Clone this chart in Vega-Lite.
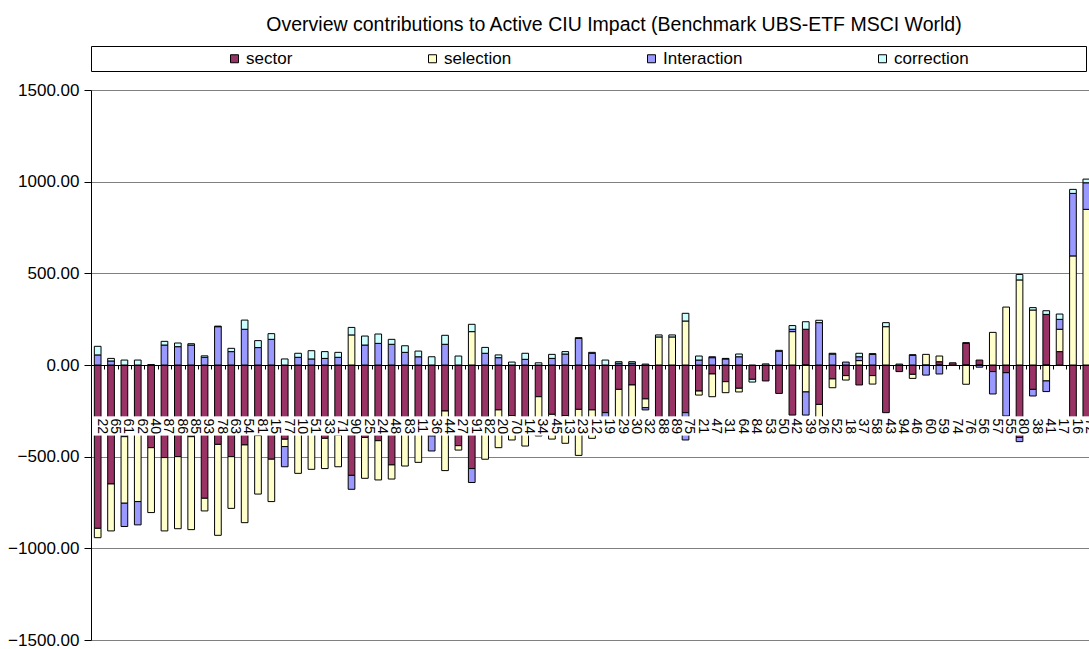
{
  "$schema": "https://vega.github.io/schema/vega-lite/v6.json",
  "autosize": {"type": "none"},
  "padding": {"left": 91, "top": 90, "right": 0, "bottom": 9},
  "width": 998,
  "height": 550,
  "title": {
    "text": "Overview contributions to Active CIU Impact (Benchmark UBS-ETF MSCI World)",
    "fontSize": 19.5,
    "fontWeight": "normal",
    "font": "Liberation Sans",
    "color": "black",
    "anchor": "middle",
    "frame": "group",
    "dx": 24,
    "offset": 10
  },
  "config": {"font": "Liberation Sans", "view": {"stroke": null}},
  "datasets": {
    "components": [
      {"component": "sector", "rank": 1},
      {"component": "selection", "rank": 2},
      {"component": "Interaction", "rank": 3},
      {"component": "correction", "rank": 4}
    ]
  },
  "data": {
    "values": [
      {"cat": "22", "sector": -891, "selection": -51, "Interaction": 55, "correction": 47},
      {"cat": "65", "sector": -649, "selection": -256, "Interaction": 22, "correction": 14},
      {"cat": "61", "sector": -391, "selection": -363, "Interaction": -127, "correction": 27},
      {"cat": "62", "sector": -378, "selection": -367, "Interaction": -127, "correction": 27},
      {"cat": "40", "sector": -451, "selection": -354, "Interaction": 0, "correction": 2},
      {"cat": "87", "sector": -505, "selection": -400, "Interaction": 109, "correction": 20},
      {"cat": "86", "sector": -500, "selection": -393, "Interaction": 100, "correction": 20},
      {"cat": "85", "sector": -391, "selection": -507, "Interaction": 109, "correction": 7},
      {"cat": "93", "sector": -727, "selection": -69, "Interaction": 42, "correction": 8},
      {"cat": "78", "sector": -433, "selection": -496, "Interaction": 209, "correction": 3},
      {"cat": "63", "sector": -500, "selection": -282, "Interaction": 73, "correction": 18},
      {"cat": "54", "sector": -436, "selection": -424, "Interaction": 195, "correction": 50},
      {"cat": "81", "sector": -385, "selection": -319, "Interaction": 95, "correction": 38},
      {"cat": "15", "sector": -514, "selection": -231, "Interaction": 140, "correction": 31},
      {"cat": "77", "sector": -405, "selection": -40, "Interaction": -110, "correction": 33},
      {"cat": "10", "sector": -360, "selection": -231, "Interaction": 42, "correction": 22},
      {"cat": "51", "sector": -350, "selection": -219, "Interaction": 33, "correction": 45},
      {"cat": "33", "sector": -400, "selection": -165, "Interaction": 36, "correction": 37},
      {"cat": "71", "sector": -382, "selection": -173, "Interaction": 42, "correction": 27},
      {"cat": "90", "sector": -602, "selection": 164, "Interaction": -76, "correction": 41},
      {"cat": "25", "sector": -395, "selection": -223, "Interaction": 109, "correction": 49},
      {"cat": "24", "sector": -413, "selection": -214, "Interaction": 118, "correction": 51},
      {"cat": "48", "sector": -545, "selection": -77, "Interaction": 113, "correction": 27},
      {"cat": "83", "sector": -320, "selection": -231, "Interaction": 69, "correction": 36},
      {"cat": "11", "sector": -330, "selection": -201, "Interaction": 45, "correction": 31},
      {"cat": "36", "sector": -282, "selection": -105, "Interaction": -82, "correction": 45},
      {"cat": "44", "sector": -251, "selection": -325, "Interaction": 113, "correction": 49},
      {"cat": "27", "sector": -440, "selection": -24, "Interaction": 0, "correction": 49},
      {"cat": "91", "sector": -565, "selection": 182, "Interaction": -76, "correction": 40},
      {"cat": "82", "sector": -285, "selection": -229, "Interaction": 64, "correction": 32},
      {"cat": "20", "sector": -245, "selection": -206, "Interaction": 40, "correction": 15},
      {"cat": "70", "sector": -276, "selection": -133, "Interaction": 0, "correction": 16},
      {"cat": "14", "sector": -300, "selection": -142, "Interaction": 31, "correction": 33},
      {"cat": "34", "sector": -173, "selection": -200, "Interaction": -14, "correction": 12},
      {"cat": "45", "sector": -269, "selection": -135, "Interaction": 36, "correction": 22},
      {"cat": "13", "sector": -276, "selection": -151, "Interaction": 60, "correction": 13},
      {"cat": "23", "sector": -242, "selection": -251, "Interaction": 145, "correction": 4},
      {"cat": "12", "sector": -245, "selection": -155, "Interaction": 64, "correction": 5},
      {"cat": "19", "sector": -260, "selection": 0, "Interaction": -36, "correction": 27},
      {"cat": "29", "sector": -133, "selection": -163, "Interaction": 10, "correction": 8},
      {"cat": "30", "sector": -109, "selection": -182, "Interaction": 10, "correction": 8},
      {"cat": "32", "sector": -185, "selection": -48, "Interaction": -12, "correction": 5},
      {"cat": "88", "sector": -320, "selection": 153, "Interaction": 0, "correction": 11},
      {"cat": "89", "sector": -320, "selection": 153, "Interaction": 0, "correction": 11},
      {"cat": "75", "sector": -260, "selection": 240, "Interaction": -149, "correction": 42},
      {"cat": "21", "sector": -142, "selection": -22, "Interaction": 27, "correction": 22},
      {"cat": "47", "sector": -49, "selection": -124, "Interaction": 40, "correction": 5},
      {"cat": "31", "sector": -91, "selection": -60, "Interaction": 33, "correction": 3},
      {"cat": "64", "sector": -127, "selection": -20, "Interaction": 45, "correction": 15},
      {"cat": "84", "sector": -78, "selection": 0, "Interaction": 0, "correction": -15},
      {"cat": "53", "sector": -87, "selection": 0, "Interaction": 0, "correction": 6},
      {"cat": "50", "sector": -155, "selection": 0, "Interaction": 75, "correction": 5},
      {"cat": "42", "sector": -273, "selection": 182, "Interaction": 13, "correction": 20},
      {"cat": "39", "sector": 195, "selection": -147, "Interaction": -126, "correction": 41},
      {"cat": "26", "sector": -215, "selection": -105, "Interaction": 231, "correction": 13},
      {"cat": "52", "sector": -76, "selection": -48, "Interaction": 60, "correction": 4},
      {"cat": "18", "sector": -58, "selection": -24, "Interaction": 16, "correction": 0},
      {"cat": "37", "sector": -109, "selection": 24, "Interaction": 21, "correction": 19},
      {"cat": "58", "sector": -58, "selection": -46, "Interaction": 58, "correction": 4},
      {"cat": "43", "sector": -260, "selection": 209, "Interaction": 0, "correction": 22},
      {"cat": "94", "sector": -36, "selection": 0, "Interaction": 0, "correction": 5},
      {"cat": "46", "sector": -51, "selection": -22, "Interaction": 53, "correction": 3},
      {"cat": "60", "sector": 0, "selection": 58, "Interaction": -55, "correction": 0},
      {"cat": "59", "sector": 18, "selection": 31, "Interaction": -49, "correction": 0},
      {"cat": "74", "sector": 12, "selection": 0, "Interaction": 0, "correction": 0},
      {"cat": "76", "sector": 118, "selection": -105, "Interaction": 0, "correction": 4},
      {"cat": "56", "sector": 27, "selection": 0, "Interaction": -12, "correction": 0},
      {"cat": "57", "sector": -36, "selection": 178, "Interaction": -122, "correction": 0},
      {"cat": "55", "sector": -42, "selection": 316, "Interaction": -236, "correction": 0},
      {"cat": "80", "sector": -395, "selection": 464, "Interaction": -23, "correction": 30},
      {"cat": "38", "sector": -133, "selection": 300, "Interaction": -36, "correction": 13},
      {"cat": "41", "sector": 276, "selection": -87, "Interaction": -58, "correction": 20},
      {"cat": "17", "sector": 73, "selection": 122, "Interaction": 54, "correction": 29},
      {"cat": "16", "sector": -300, "selection": 595, "Interaction": 341, "correction": 22},
      {"cat": "72", "sector": -300, "selection": 849, "Interaction": 145, "correction": 20}
    ]
  },
  "encoding": {
    "x": {
      "field": "cat",
      "type": "nominal",
      "sort": null,
      "scale": {"paddingInner": 0.5, "paddingOuter": 0.25, "range": [0, 1002]},
      "axis": {
        "title": null,
        "orient": "bottom",
        "offset": -275,
        "domainColor": "black",
        "tickColor": "black",
        "tickSize": 4,
        "bandPosition": 0,
        "tickOffset": -3.34,
        "labelOffset": 6.68,
        "labelAngle": 90,
        "labelPadding": 49,
        "labelFontSize": 14,
        "labelFont": "Liberation Sans",
        "labelColor": "black",
        "labelOverlap": false,
        "labelBound": false,
        "grid": false,
        "zindex": 1
      }
    }
  },
  "layer": [
    {
      "transform": [
        {"fold": ["sector", "selection", "Interaction", "correction"], "as": ["component", "value"]},
        {"filter": "datum.value != 0"},
        {"lookup": "component", "from": {"data": {"name": "components"}, "key": "component", "fields": ["rank"]}}
      ],
      "mark": {"type": "bar", "stroke": "black", "strokeWidth": 1},
      "encoding": {
        "y": {
          "field": "value",
          "type": "quantitative",
          "stack": "zero",
          "scale": {"domain": [-1500, 1500], "nice": false, "zero": false},
          "axis": {
            "title": null,
            "values": [-1500, -1000, -500, 0, 500, 1000, 1500],
            "format": ".2f",
            "grid": true,
            "gridColor": "#808080",
            "gridOpacity": 1,
            "domainColor": "black",
            "tickColor": "black",
            "tickSize": 7,
            "labelPadding": 5,
            "labelFontSize": 17,
            "labelFont": "Liberation Sans",
            "labelColor": "black",
            "zindex": 0
          }
        },
        "color": {
          "field": "component",
          "type": "nominal",
          "scale": {
            "domain": ["sector", "selection", "Interaction", "correction"],
            "range": ["#993366", "#FFFFCC", "#9999FF", "#CCFFFF"]
          },
          "legend": {
            "orient": "none",
            "legendX": 0,
            "legendY": -44,
            "direction": "horizontal",
            "title": null,
            "padding": 4,
            "strokeColor": "black",
            "fillColor": "white",
            "symbolType": "square",
            "symbolSize": 64,
            "symbolStrokeColor": "black",
            "symbolStrokeWidth": 1,
            "symbolOffset": 131,
            "labelOffset": 3,
            "columnPadding": 0,
            "labelFontSize": 17,
            "labelFont": "Liberation Sans",
            "labelColor": "black",
            "labelLimit": 400,
            "labelExpr": "datum.label == 'correction' ? pad(datum.label, 34, '\u00a0') + '\u200b' : datum.label"
          }
        },
        "order": {"field": "rank", "type": "quantitative"}
      }
    },
    {
      "mark": {"type": "bar", "color": "white", "width": 10},
      "encoding": {
        "y": {"datum": -280, "type": "quantitative", "title": null},
        "y2": {"datum": -385}
      }
    }
  ]
}
